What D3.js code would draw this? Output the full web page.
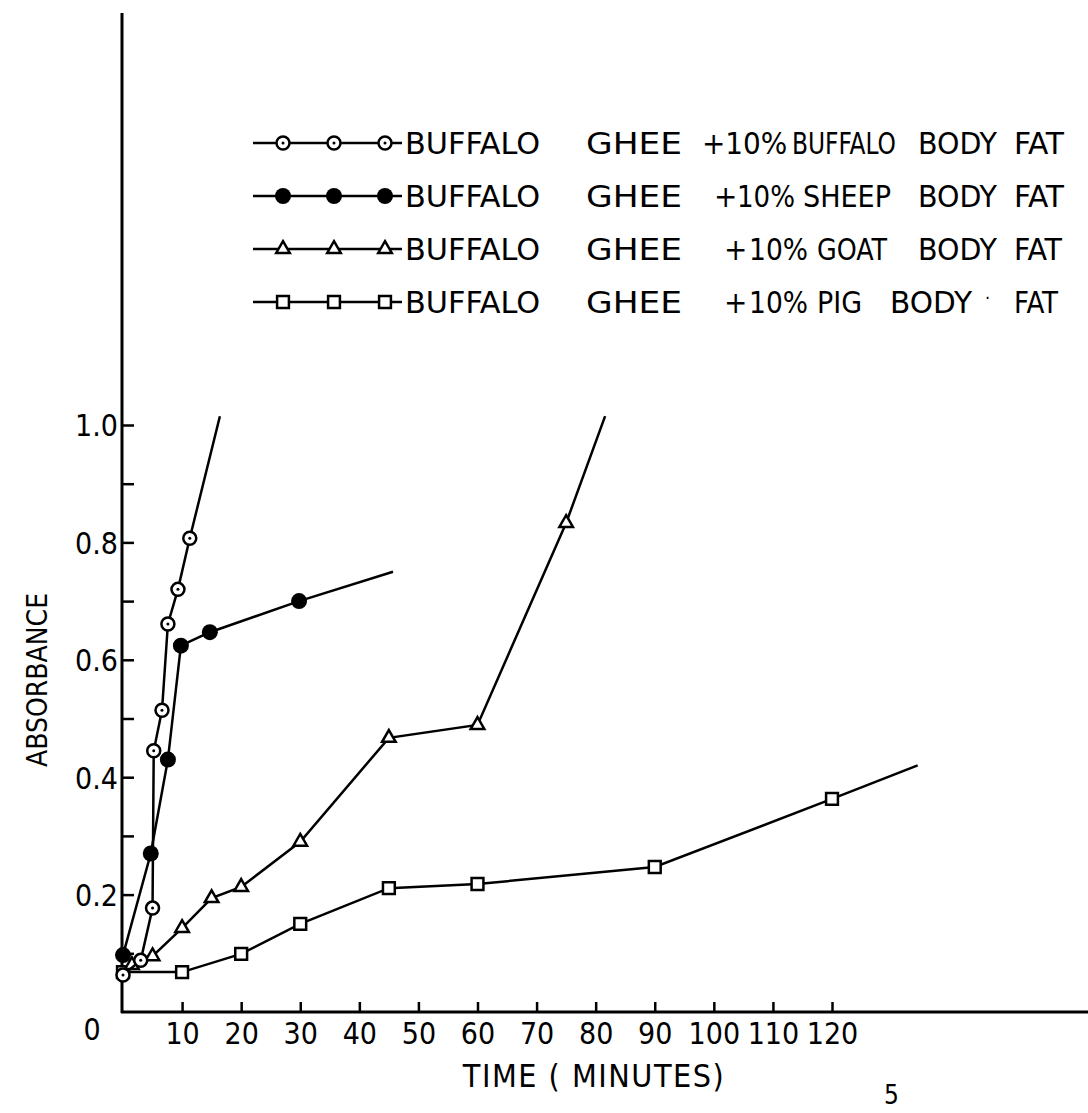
<!DOCTYPE html>
<html lang="en">
<head>
<meta charset="UTF-8" />
<title>Absorbance vs time</title>
<script src="https://d3js.org/d3.v7.min.js"></script>
<style>
    body { margin: 0; background: #fff; }
    svg { display: block; }
    text { font-family: "Liberation Sans Narrow", "DejaVu Sans Condensed", sans-serif; fill: #000; }
</style>
</head>
<body>
<svg id="chart" width="1088" height="1113"></svg>
<script>
    // time (minutes) and absorbance
    const buffaloTime = [0, 3, 5, 5.2, 6.6, 7.6, 9.3, 11.3];
    const buffaloAbs = [0.063, 0.088, 0.177, 0.445, 0.514, 0.661, 0.72, 0.807];
    const buffaloEnd = [16.4, 1.015];

    const sheepTime = [0, 4.7, 7.6, 9.8, 14.7, 29.8];
    const sheepAbs = [0.097, 0.27, 0.43, 0.624, 0.647, 0.70];
    const sheepEnd = [45.7, 0.75];

    const goatTime = [1.5, 5, 10, 15, 20, 30, 45, 60, 75];
    const goatAbs = [0.08, 0.095, 0.143, 0.194, 0.213, 0.29, 0.467, 0.489, 0.833];
    const goatEnd = [81.6, 1.015];

    const pigTime = [0, 10, 20, 30, 45, 60, 90, 120];
    const pigAbs = [0.068, 0.068, 0.099, 0.15, 0.211, 0.218, 0.247, 0.363];
    const pigEnd = [134.5, 0.42];

    const xTicks = [10, 20, 30, 40, 50, 60, 70, 80, 90, 100, 110, 120];
    const yTicks = [0.1, 0.2, 0.3, 0.4, 0.5, 0.6, 0.7, 0.8, 0.9, 1.0];
    const yLabels = { 0.2: "0.2", 0.4: "0.4", 0.6: "0.6", 0.8: "0.8", 1.0: "1.0" };

    // legend words: text, left x, width (null = natural width)
    const legendWords = [
        [["BUFFALO", 405, 135], ["GHEE", 586, 96], ["+10%", 702, null], ["BUFFALO", 792, 104], ["BODY", 918, 79], ["FAT", 1014, 50]],
        [["BUFFALO", 405, 135], ["GHEE", 586, 96], ["+", 714, null], ["10%", 737, 58], ["SHEEP", 803, 88], ["BODY", 918, 79], ["FAT", 1014, 50]],
        [["BUFFALO", 405, 135], ["GHEE", 586, 96], ["+", 724, null], ["10%", 749, 59], ["GOAT", 817, 70], ["BODY", 918, 79], ["FAT", 1014, 48]],
        [["BUFFALO", 405, 135], ["GHEE", 586, 96], ["+", 724, null], ["10%", 749, 59], ["PIG", 817, 45], ["BODY", 890, 82], ["FAT", 1014, 44]]
    ];

    const svg = d3.select("#chart");
    const x = d3.scaleLinear().domain([0, 120]).range([123, 832]);
    const y = d3.scaleLinear().domain([0, 1]).range([1012, 425]);
    const font = "'Liberation Sans Narrow', 'DejaVu Sans Condensed', sans-serif";

    // axes lines (drawn by hand so they can run past the domain)
    svg.append("line").attr("x1", 122).attr("x2", 122).attr("y1", 13).attr("y2", 1013)
        .attr("stroke", "#000").attr("stroke-width", 3);
    svg.append("line").attr("x1", 121).attr("x2", 1088).attr("y1", 1012).attr("y2", 1012)
        .attr("stroke", "#000").attr("stroke-width", 3);

    const yAxis = svg.append("g").attr("transform", "translate(122,0)")
        .call(d3.axisLeft(y).tickValues(yTicks).tickSizeInner(-12).tickSizeOuter(0).tickPadding(4)
            .tickFormat(d => yLabels[d] || ""));
    yAxis.select(".domain").remove();
    yAxis.selectAll("line").attr("stroke-width", 2.5);
    yAxis.selectAll("text").attr("font-size", 30).attr("dy", "0.36em").style("font-family", font);

    const xAxis = svg.append("g").attr("transform", "translate(0,1012)")
        .call(d3.axisBottom(x).tickValues(xTicks).tickSizeInner(-10).tickSizeOuter(0).tickPadding(11));
    xAxis.select(".domain").remove();
    xAxis.selectAll("line").attr("stroke-width", 2.5);
    xAxis.selectAll("text").attr("font-size", 30).style("font-family", font);

    svg.append("text").attr("x", 92).attr("y", 1040).attr("text-anchor", "middle")
        .attr("font-size", 30).text("0");

    svg.append("text").attr("x", 594).attr("y", 1087).attr("text-anchor", "middle")
        .attr("font-size", 32).attr("letter-spacing", 1.5).text("TIME ( MINUTES)");

    svg.append("text").attr("transform", "translate(47,680) rotate(-90)")
        .attr("text-anchor", "middle").attr("font-size", 28).text("ABSORBANCE");

    svg.append("text").attr("x", 884).attr("y", 1104).attr("font-size", 26).text("5");

    // series
    const line = d3.line().x(d => x(d[0])).y(d => y(d[1]));

    function drawMarker(g, kind, cx, cy) {
        if (kind === "open") {
            g.append("circle").attr("cx", cx).attr("cy", cy).attr("r", 6.5)
                .attr("fill", "#fff").attr("stroke", "#000").attr("stroke-width", 2.5);
            g.append("circle").attr("cx", cx).attr("cy", cy).attr("r", 1.5).attr("fill", "#000");
        } else if (kind === "filled") {
            g.append("circle").attr("cx", cx).attr("cy", cy).attr("r", 8).attr("fill", "#000");
        } else if (kind === "triangle") {
            g.append("path").attr("d", d3.symbol(d3.symbolTriangle, 80)())
                .attr("transform", `translate(${cx},${cy})`)
                .attr("fill", "#fff").attr("stroke", "#000").attr("stroke-width", 2.5);
        } else {
            g.append("path").attr("d", d3.symbol(d3.symbolSquare, 140)())
                .attr("transform", `translate(${cx},${cy})`)
                .attr("fill", "#fff").attr("stroke", "#000").attr("stroke-width", 2.5);
        }
    }

    const series = [
        { time: pigTime, abs: pigAbs, end: pigEnd, kind: "square" },
        { time: goatTime, abs: goatAbs, end: goatEnd, kind: "triangle" },
        { time: sheepTime, abs: sheepAbs, end: sheepEnd, kind: "filled" },
        { time: buffaloTime, abs: buffaloAbs, end: buffaloEnd, kind: "open" }
    ];

    series.forEach(s => {
        const pts = s.time.map((t, i) => [t, s.abs[i]]);
        const g = svg.append("g");
        g.append("path").datum(pts.concat([s.end])).attr("d", line)
            .attr("fill", "none").attr("stroke", "#000").attr("stroke-width", 2.5);
        pts.forEach(p => drawMarker(g, s.kind, x(p[0]), y(p[1])));
    });

    // legend
    const legendKinds = ["open", "filled", "triangle", "square"];
    const legendY = [143, 196, 249, 302];
    legendKinds.forEach((k, i) => {
        const g = svg.append("g");
        const ly = legendY[i];
        g.append("line").attr("x1", 253).attr("x2", 402).attr("y1", ly).attr("y2", ly)
            .attr("stroke", "#000").attr("stroke-width", 2.5);
        [283, 334, 385].forEach(mx => drawMarker(g, k, mx, ly));
        legendWords[i].forEach(w => {
            const t = g.append("text").attr("x", w[1]).attr("y", ly + 11).attr("font-size", 31).text(w[0]);
            if (w[2]) t.attr("textLength", w[2]).attr("lengthAdjust", "spacingAndGlyphs");
        });
    });
    // stray mark between BODY and FAT in the last row
    svg.append("text").attr("x", 985).attr("y", legendY[3] + 2).attr("font-size", 18).text("·");
</script>
</body>
</html>
